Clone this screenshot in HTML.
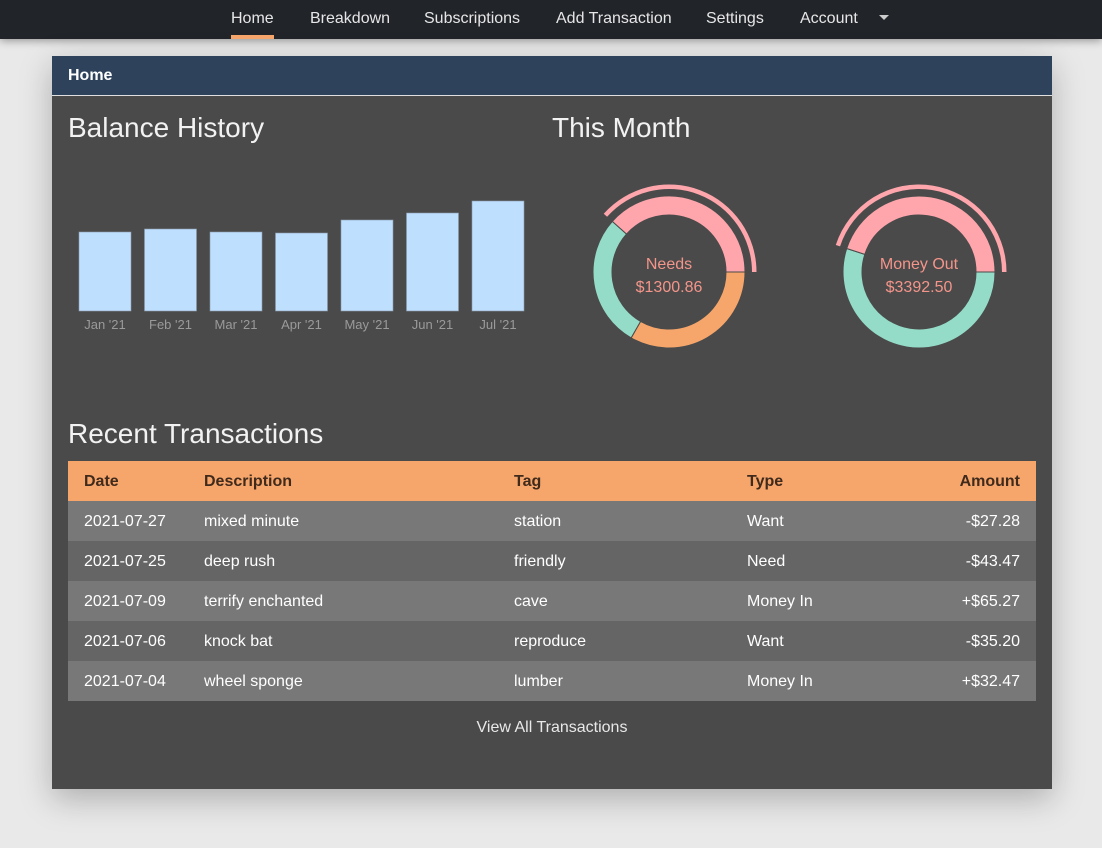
<!DOCTYPE html>
<html><head><meta charset="utf-8">
<style>
*{box-sizing:border-box;margin:0;padding:0}
body{width:1102px;height:848px;background:#e9e9e9;font-family:"Liberation Sans",sans-serif;position:relative;overflow:hidden}
.nav{position:absolute;left:0;top:0;width:1102px;height:39px;background:#212429;box-shadow:0 2px 8px rgba(0,0,0,.35)}
.nav a{position:absolute;top:10px;color:#e6e6e6;font-size:16px;text-decoration:none}
.nav .ul{position:absolute;left:231px;top:35px;width:43px;height:4px;background:#f7a66b}
.card{position:absolute;left:52px;top:56px;width:1000px;height:733px;background:#4a4a4a;box-shadow:0 10px 30px rgba(0,0,0,.25)}
.ch{height:40px;background:#2e435b;border-bottom:1px solid #e0e0e0;color:#fff;font-weight:bold;font-size:16px;padding:11px 16px}
.title{position:absolute;color:#f2f2f2;font-size:28px;font-weight:300}
table{position:absolute;left:16px;top:405px;width:968px;border-collapse:collapse;font-size:16px}
th{background:#f7a66b;color:#3f2a1c;text-align:left;height:40px;padding:2px 16px 0;font-weight:bold}
td{color:#fff;height:40px;padding:2px 16px 0}
tr.a td{background:#787878}tr.b td{background:#656565}
.r{text-align:right}
.view{position:absolute;left:0;width:1000px;top:663px;text-align:center;color:#e8e8e8;font-size:16px}
</style></head><body>
<div class="nav">
<a style="left:231px">Home</a>
<a style="left:310px">Breakdown</a>
<a style="left:424px">Subscriptions</a>
<a style="left:556px">Add Transaction</a>
<a style="left:706px">Settings</a>
<a style="left:800px">Account</a>
<span style="position:absolute;left:879px;top:15px;border:5px solid transparent;border-top-color:#ccc"></span>
<div class="ul"></div>
</div>
<div class="card">
<div class="ch">Home</div>
<div class="title" style="left:16px;top:56px">Balance History</div>
<div class="title" style="left:500px;top:56px">This Month</div>
<svg id="bars" style="position:absolute;left:0;top:0" width="1000" height="340"></svg>
<div class="title" style="left:16px;top:362px">Recent Transactions</div>
<table>
<tr><th style="width:120px">Date</th><th style="width:310px">Description</th><th style="width:233px">Tag</th><th>Type</th><th class="r">Amount</th></tr>
<tr class="a"><td>2021-07-27</td><td>mixed minute</td><td>station</td><td>Want</td><td class="r">-$27.28</td></tr>
<tr class="b"><td>2021-07-25</td><td>deep rush</td><td>friendly</td><td>Need</td><td class="r">-$43.47</td></tr>
<tr class="a"><td>2021-07-09</td><td>terrify enchanted</td><td>cave</td><td>Money In</td><td class="r">+$65.27</td></tr>
<tr class="b"><td>2021-07-06</td><td>knock bat</td><td>reproduce</td><td>Want</td><td class="r">-$35.20</td></tr>
<tr class="a"><td>2021-07-04</td><td>wheel sponge</td><td>lumber</td><td>Money In</td><td class="r">+$32.47</td></tr>
</table>
<div class="view">View All Transactions</div>
</div>
<script>
const months=["Jan '21","Feb '21","Mar '21","Apr '21","May '21","Jun '21","Jul '21"];
const balances=[790,820,790,780,910,980,1100];
const needsLabels=["Other","Secondary","Primary"];
const needsValues=[33.3,28.3,38.4];
const outLabels=["Needs","Wants"];
const outValues=[55,45];
const NS="http://www.w3.org/2000/svg";
const svg=document.getElementById('bars');
function mk(t,a){const e=document.createElementNS(NS,t);for(const k in a)e.setAttribute(k,a[k]);svg.appendChild(e);return e;}
const base=255,x0=27,step=65.5,bw=52;
const y=v=>base-v*0.1;
months.forEach((m,i)=>{
 const r=mk('rect',{x:x0+i*step,y:y(balances[i]),width:bw,height:base-y(balances[i]),fill:'#bfdfff',stroke:'#8a9aaa','stroke-width':0.6});
 
 
 const t=mk('text',{x:x0+i*step+bw/2,y:base+18,'text-anchor':'middle',fill:'#9a9a9a','font-size':13,'font-family':'Liberation Sans'});
 t.textContent=m;
 
 
});
function pt(cx,cy,r,deg){const a=deg*Math.PI/180;return [cx+r*Math.cos(a),cy+r*Math.sin(a)];}
function seg(cx,cy,ro,ri,a0,a1,fill){
 const large=(a1-a0)>180?1:0;
 const p1=pt(cx,cy,ro,a0),p2=pt(cx,cy,ro,a1),p3=pt(cx,cy,ri,a1),p4=pt(cx,cy,ri,a0);
 return mk('path',{d:`M${p1}A${ro},${ro} 0 ${large} 1 ${p2}L${p3}A${ri},${ri} 0 ${large} 0 ${p4}Z`,fill:fill,stroke:'#4a4a4a','stroke-width':1});
}
function donut(cx,cy,vals,cols,name,label,amount){
 const tot=vals.reduce((a,b)=>a+b,0);let a=0;
 vals.forEach((v,i)=>{
  const a1=a+v/tot*360;
  const p=seg(cx,cy,76,57,a,a1,cols[i]);
  
  
  if(i===vals.length-1){
   const h=seg(cx,cy,87.5,83,a,a1,cols[i]);
   h.setAttribute('stroke','none');
   
   
  }
  a=a1;
 });
 const t1=mk('text',{x:cx,y:cy-3,'text-anchor':'middle',fill:'#f3958a','font-size':16,'font-family':'Liberation Sans'});t1.textContent=label;
 
 
 const t2=mk('text',{x:cx,y:cy+20,'text-anchor':'middle',fill:'#f3958a','font-size':16,'font-family':'Liberation Sans'});t2.textContent=amount;
 
 
}
donut(617,216,needsValues,['#f7a66b','#94dcc8','#ffa5ac'],'needs-donut','Needs','$1300.86');
donut(867,216,outValues,['#94dcc8','#ffa5ac'],'money-out-donut','Money Out','$3392.50');
</script>
</body></html>
